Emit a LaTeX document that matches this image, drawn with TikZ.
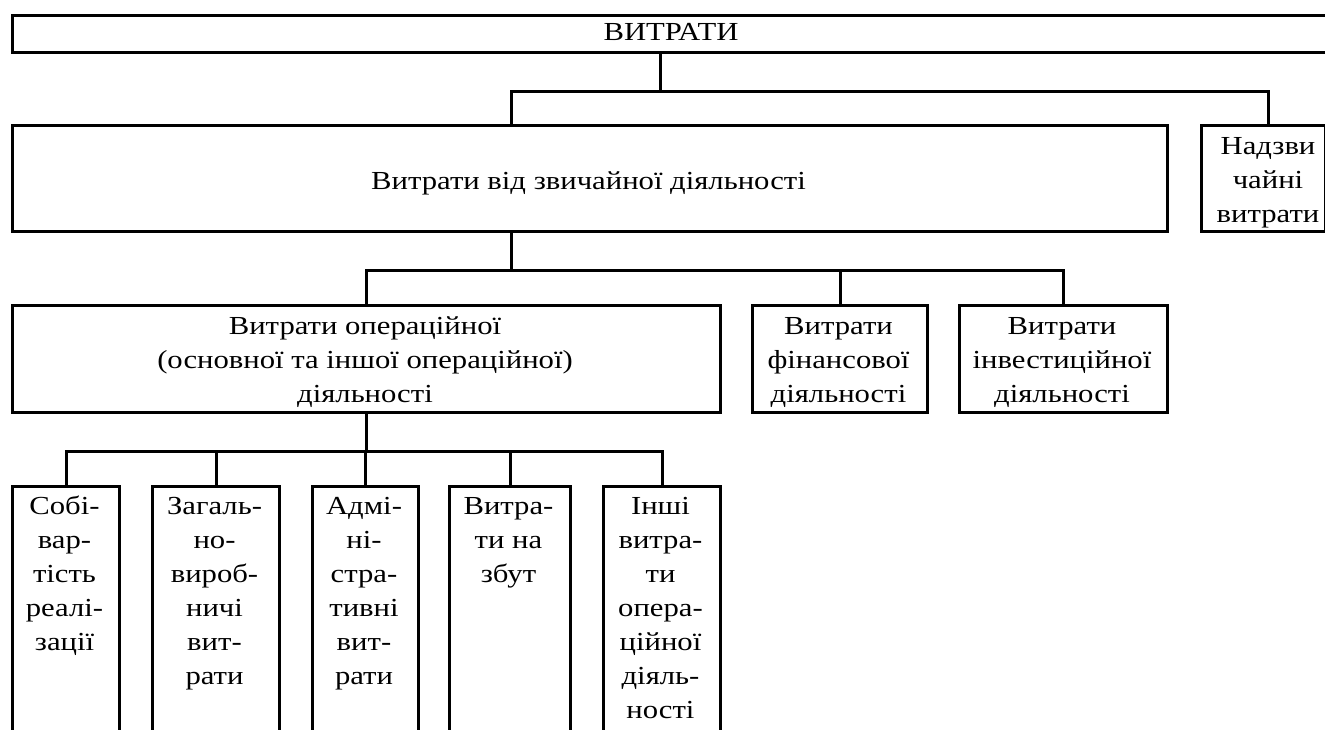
\documentclass[tikz,border=0pt]{standalone}
\usepackage{fontspec}
\setmainfont{Liberation Serif}[FakeStretch=1.18]
\newcommand\firstln{\rule{0pt}{20pt}}
\begin{document}
\begin{tikzpicture}[x=1pt,y=-1pt,line width=3pt,
  box/.style={draw,line width=3pt,inner sep=0pt,anchor=north west},
  txt/.style={font=\fontsize{26}{34}\selectfont,align=center,inner sep=0pt}]
\useasboundingbox (0,0) rectangle (1325,729);
\clip (0,0) rectangle (1325,729);
% named x positions of the drop lines
\coordinate (tx) at (660,0);
\coordinate (ox) at (511,0);
\coordinate (nx) at (1268,0);
% boxes
\node[box,minimum width=1400pt,minimum height=37pt] (top) at (11,14) {};
\node[txt,anchor=base] (topt) at (671,40.5) {ВИТРАТИ};
\node[box,minimum width=1155pt,minimum height=106pt] (ord) at (11,124) {};
\node[txt,anchor=base] (ordt) at (588.5,189) {Витрати від звичайної діяльності};
\node[box,minimum width=124pt,minimum height=106pt] (nad) at (1200,124) {};
\node[txt,anchor=north] (nadt) at (1268,133) {\firstln Надзви\\чайні\\витрати};
\node[box,minimum width=708pt,minimum height=107pt] (op) at (11,304) {};
\node[txt,anchor=north] (opt) at (365,313) {\firstln Витрати операційної\\(основної та іншої операційної)\\діяльності};
\node[box,minimum width=175pt,minimum height=107pt] (fin) at (751,304) {};
\node[txt,anchor=north] (fint) at (838.5,313) {\firstln Витрати\\фінансової\\діяльності};
\node[box,minimum width=208pt,minimum height=107pt] (inv) at (958,304) {};
\node[txt,anchor=north] (invt) at (1062,313) {\firstln Витрати\\інвестиційної\\діяльності};
\node[box,minimum width=107pt,minimum height=300pt] (b1) at (11,485) {};
\node[txt,anchor=north] (b1t) at (64.5,493) {\firstln Собі-\\вар-\\тість\\реалі-\\зації};
\node[box,minimum width=127pt,minimum height=300pt] (b2) at (151,485) {};
\node[txt,anchor=north] (b2t) at (214.5,493) {\firstln Загаль-\\но-\\вироб-\\ничі\\вит-\\рати};
\node[box,minimum width=106pt,minimum height=300pt] (b3) at (311,485) {};
\node[txt,anchor=north] (b3t) at (364,493) {\firstln Адмі-\\ні-\\стра-\\тивні\\вит-\\рати};
\node[box,minimum width=121pt,minimum height=300pt] (b4) at (448,485) {};
\node[txt,anchor=north] (b4t) at (508.5,493) {\firstln Витра-\\ти на\\збут};
\node[box,minimum width=117pt,minimum height=300pt] (b5) at (602,485) {};
\node[txt,anchor=north] (b5t) at (660.5,493) {\firstln Інші\\витра-\\ти\\опера-\\ційної\\діяль-\\ності};
% connectors
\draw (top.south -| tx) -- ++(0,37) coordinate (j1);
\draw (ord.north -| ox) |- (j1) -| (nad.north -| nx);
\draw (ord.south -| ox) -- ++(0,37) coordinate (j2);
\draw (op.north) |- (j2) -| (inv.north);
\draw (fin.north) -- (fin.north |- j2);
\draw (op.south) -- ++(0,37) coordinate (j3);
\draw (b1.north) |- (j3) -| (b5.north);
\draw (b2.north) -- (b2.north |- j3);
\draw (b3.north) -- (b3.north |- j3);
\draw (b4.north) -- (b4.north |- j3);
\end{tikzpicture}
\end{document}
